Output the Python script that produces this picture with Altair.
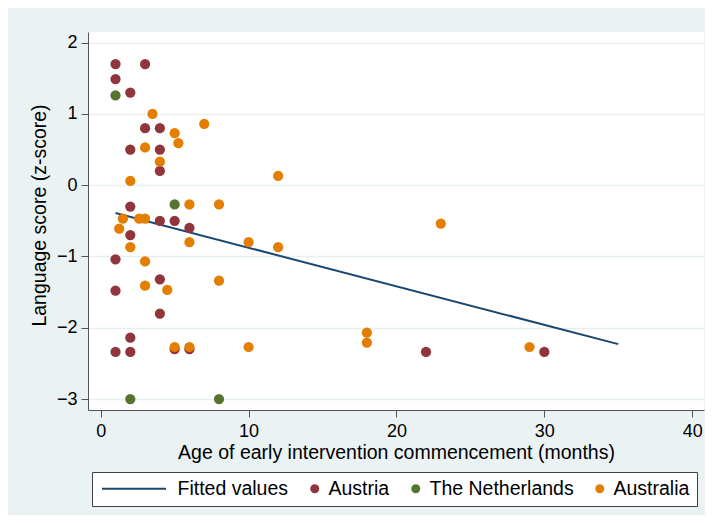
import altair as alt
import pandas as pd

# ---- data ----
austria_x = [1, 3, 1, 2, 3, 4, 2, 4, 4, 2, 4, 5, 6, 2, 1, 4, 1, 4, 2, 1, 2, 5, 6, 22, 30]
austria_y = [1.70, 1.70, 1.49, 1.30, 0.80, 0.80, 0.50, 0.50, 0.20, -0.30, -0.50, -0.50, -0.60,
             -0.70, -1.04, -1.32, -1.48, -1.80, -2.14, -2.34, -2.34, -2.30, -2.30, -2.34, -2.34]

netherlands_x = [1, 5, 2, 8]
netherlands_y = [1.26, -0.27, -3.0, -3.0]

australia_x = [3.5, 7, 5, 5.25, 3, 4, 2, 12, 6, 8, 1.5, 2.6, 3, 1.25, 2, 6, 10, 12, 23,
               3, 3, 4.5, 8, 5, 6, 10, 18, 18, 29]
australia_y = [1.00, 0.86, 0.73, 0.59, 0.53, 0.33, 0.06, 0.13, -0.27, -0.27, -0.47, -0.47, -0.47,
               -0.61, -0.87, -0.80, -0.80, -0.87, -0.54, -1.07, -1.41, -1.47, -1.34, -2.27,
               -2.27, -2.27, -2.07, -2.21, -2.27]

fit_x = [1, 35]
fit_y = [-0.39, -2.23]

series_names = ["Fitted values", "Austria", "The Netherlands", "Australia"]
series_colors = ["#1a476f", "#90353b", "#55752f", "#e37e00"]

x_ticks = [0, 10, 20, 30, 40]
y_ticks = [-3, -2, -1, 0, 1, 2]

# ---- tables ----
rows = []
for name, xs, ys in [("Austria", austria_x, austria_y),
                     ("The Netherlands", netherlands_x, netherlands_y),
                     ("Australia", australia_x, australia_y)]:
    for xv, yv in zip(xs, ys):
        rows.append({"age": xv, "score": yv, "series": name})
pts = pd.DataFrame(rows)
fit = pd.DataFrame({"age": fit_x, "score": fit_y})

FONT = "Liberation Sans"
line_symbol = "M-13.72,-0.22H0.5V0.22H-13.72Z"

xscale = alt.Scale(domain=[-0.86, 40.8], nice=False, zero=False)
yscale = alt.Scale(domain=[-3.154, 2.15], nice=False, zero=False)

xaxis = alt.Axis(values=x_ticks, title="Age of early intervention commencement (months)",
                 grid=False, tickSize=7, labelPadding=5, labelFontSize=18,
                 titleFontSize=19.5, titleY=42, titleBaseline="middle", labelFlush=False)
yaxis = alt.Axis(values=y_ticks, title="Language score (z-score)", grid=True,
                 gridColor="#e6eff1", gridWidth=1.5, tickSize=7, labelPadding=4,
                 labelFontSize=18, titleFontSize=19.5, titleX=-49, titleY=183,
                 titleBaseline="middle", titleAlign="center", labelFlush=False)

legend = alt.Legend(title=None, orient="none", legendX=4, legendY=440, direction="horizontal",
                    columns=4, padding=7, fillColor="white", strokeColor="#404040",
                    labelFontSize=19.5, labelFont=FONT, labelColor="black", symbolSize=81,
                    symbolOffset=55, labelOffset=4, columnPadding=-39, gridAlign="none",
                    symbolStrokeWidth=0)

line = alt.Chart(fit).mark_line(color="#1a476f", strokeWidth=2).encode(
    x=alt.X("age:Q", scale=xscale, axis=xaxis),
    y=alt.Y("score:Q", scale=yscale, axis=yaxis),
)

points = alt.Chart(pts).mark_point(filled=True, size=105, opacity=1, strokeWidth=0).encode(
    x=alt.X("age:Q", scale=xscale, axis=xaxis),
    y=alt.Y("score:Q", scale=yscale, axis=yaxis),
    color=alt.Color("series:N", scale=alt.Scale(domain=series_names, range=series_colors),
                    legend=legend),
    shape=alt.Shape("series:N",
                    scale=alt.Scale(domain=series_names,
                                    range=[line_symbol, "circle", "circle", "circle"]),
                    legend=legend),
)

chart = alt.layer(line, points).properties(
    width=616, height=378,
    autosize=alt.AutoSizeParams(type="none"),
    padding={"left": 80, "top": 24, "right": 1, "bottom": 105},
    background="#eaf2f3",
).configure_view(
    fill="white", stroke=None, strokeWidth=0
).configure_axis(
    domainColor="#555555", tickColor="#555555", labelFont=FONT, titleFont=FONT,
    labelColor="black", titleColor="black", titleFontWeight="normal",
)

chart.save("out.html", embed_options={"renderer": "svg", "actions": False})
